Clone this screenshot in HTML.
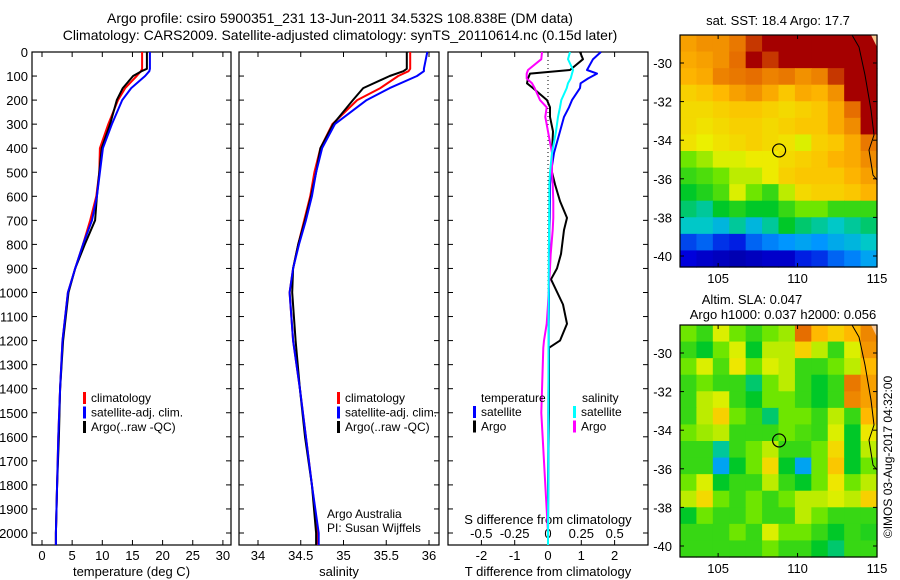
<!DOCTYPE html>
<html><head><meta charset="utf-8">
<style>
html,body{margin:0;padding:0;background:#fff;}
svg{display:block;font-family:"Liberation Sans",Arial,sans-serif;}
text{font-size:13px;fill:#000;}
</style></head>
<body>
<svg id="chart" width="900" height="580" viewBox="0 0 900 580" xmlns="http://www.w3.org/2000/svg">
<text x="340" y="23" text-anchor="middle" style="font-size:14px">Argo profile: csiro 5900351_231 13-Jun-2011 34.532S 108.838E (DM data)</text>
<text x="340" y="40" text-anchor="middle" style="font-size:14px">Climatology: CARS2009. Satellite-adjusted climatology: synTS_20110614.nc (0.15d later)</text>
<g id="g"></g>
</svg>
<script>
// ---------- data ----------
const depthT = [0,70,80,100,150,200,300,400,500,600,700,800,900,1000,1200,1400,1600,1800,2000,2050];
const tempArgo = [17.4,17.4,16.5,15.1,13.4,12.4,11.3,9.9,9.5,9.1,8.8,7.1,5.5,4.4,3.5,3.0,2.8,2.5,2.3,2.3];
const tempClim = [16.6,16.6,16.4,15.7,13.8,12.6,11.0,9.6,9.5,9.0,8.0,6.8,5.5,4.3,3.4,3.0,2.7,2.5,2.3,2.3];
const tempSat  = [17.9,17.9,17.8,17.1,14.8,13.3,11.6,10.1,9.6,9.1,8.3,6.8,5.5,4.3,3.4,3.0,2.7,2.5,2.3,2.3];
const salArgo = [35.74,35.74,35.70,35.54,35.23,35.11,34.88,34.73,34.68,34.62,34.55,34.47,34.41,34.40,34.44,34.49,34.55,34.63,34.68,34.68];
const salClim = [35.78,35.78,35.76,35.64,35.43,35.16,34.87,34.73,34.66,34.61,34.54,34.47,34.41,34.37,34.41,34.49,34.56,34.63,34.70,34.70];
const salSat  = [35.98,35.94,35.94,35.86,35.54,35.27,34.90,34.75,34.68,34.63,34.56,34.48,34.41,34.37,34.41,34.49,34.56,34.63,34.71,34.71];
const depthD = [0,30,75,90,110,130,150,200,230,270,330,420,500,550,620,690,740,840,900,945,1050,1130,1200,1230,1500,1800,2000,2050];
const dTArgo = [0.96,1.05,0.66,-0.54,-0.60,-0.63,-0.45,-0.03,0.06,0.06,0.15,0.12,0.12,0.21,0.36,0.57,0.48,0.39,0.27,0.09,0.45,0.57,0.36,0.03,0.03,0.0,0.0,0.0];
const dTSat  = [1.59,1.35,1.17,1.47,1.20,0.98,0.96,0.72,0.63,0.48,0.36,0.18,0.09,0.06,0.06,0.05,0.04,0.04,0.03,0.03,0.03,0.02,0.02,0.02,0.01,0.01,0.0,0.0];
const dSSat  = [0.165,0.15,0.188,0.18,0.17,0.15,0.14,0.10,0.09,0.075,0.06,0.03,0.015,0.01,0.01,0.008,0.008,0.006,0.006,0.005,0.005,0.004,0.004,0.004,0.003,0.002,0.0,0.0];
const dSArgo = [-0.045,-0.05,-0.15,-0.16,-0.16,-0.12,-0.10,-0.06,-0.01,-0.02,0.0,0.03,0.03,0.035,0.04,0.04,0.035,0.02,0.015,0.01,0.0,-0.01,-0.03,-0.035,-0.05,-0.02,0.0,0.0];
const depthTicks = [0,100,200,300,400,500,600,700,800,900,1000,1100,1200,1300,1400,1500,1600,1700,1800,1900,2000];
const tempTicks = [0,5,10,15,20,25,30];
const salTicks = [34,34.5,35,35.5,36];
const salTickLabels = ["34","34.5","35","35.5","36"];
const tdTicks = [-2,-1,0,1,2];
const sdTicks = [-0.5,-0.25,0,0.25,0.5];
const sdTickLabels = ["-0.5","-0.25","0","0.25","0.5"];
const latTicks = [-30,-32,-34,-36,-38,-40];
const lonTicks = [105,110,115];
const sstGrid = [
[0.8,0.83,0.83,0.88,0.95,1,1,1,1,1,1,1],
[0.78,0.8,0.83,0.9,1,0.95,1,1,1,1,1,1],
[0.76,0.78,0.86,0.88,0.9,0.86,0.88,0.83,0.86,0.95,1,1],
[0.7,0.72,0.75,0.8,0.83,0.78,0.72,0.78,0.76,0.83,1,1],
[0.68,0.68,0.7,0.72,0.72,0.7,0.68,0.7,0.72,0.78,0.9,1],
[0.68,0.66,0.68,0.7,0.7,0.68,0.7,0.72,0.72,0.78,0.84,1],
[0.66,0.63,0.66,0.68,0.7,0.68,0.66,0.62,0.7,0.72,0.78,0.88],
[0.55,0.58,0.62,0.62,0.64,0.64,0.68,0.7,0.72,0.76,0.78,0.84],
[0.5,0.52,0.55,0.6,0.6,0.64,0.7,0.72,0.72,0.72,0.76,0.8],
[0.45,0.48,0.52,0.62,0.55,0.5,0.6,0.68,0.7,0.7,0.72,0.76],
[0.42,0.4,0.45,0.48,0.45,0.45,0.5,0.55,0.55,0.5,0.5,0.5],
[0.38,0.38,0.35,0.4,0.35,0.4,0.45,0.42,0.4,0.38,0.4,0.42],
[0.22,0.25,0.2,0.18,0.25,0.28,0.3,0.32,0.3,0.33,0.35,0.38],
[0.15,0.12,0.1,0.08,0.1,0.12,0.12,0.18,0.2,0.25,0.28,0.32]];
const slaGrid = [
[0.55,0.5,0.62,0.55,0.5,0.55,0.58,0.9,0.75,0.7,0.75,0.85],
[0.5,0.45,0.55,0.62,0.45,0.6,0.6,0.7,0.6,0.5,0.62,0.82],
[0.55,0.62,0.52,0.65,0.55,0.62,0.6,0.5,0.5,0.55,0.6,0.75],
[0.5,0.55,0.5,0.5,0.42,0.55,0.6,0.5,0.45,0.5,0.88,0.8],
[0.5,0.6,0.62,0.5,0.45,0.55,0.55,0.5,0.45,0.5,0.85,0.8],
[0.5,0.6,0.7,0.55,0.5,0.42,0.55,0.55,0.5,0.6,0.5,0.75],
[0.55,0.58,0.6,0.5,0.5,0.5,0.55,0.52,0.5,0.62,0.45,0.65],
[0.5,0.5,0.4,0.5,0.55,0.6,0.5,0.5,0.55,0.68,0.45,0.6],
[0.5,0.5,0.32,0.45,0.55,0.68,0.45,0.32,0.55,0.72,0.45,0.55],
[0.55,0.62,0.45,0.5,0.5,0.6,0.5,0.45,0.55,0.65,0.55,0.6],
[0.6,0.68,0.55,0.5,0.55,0.5,0.55,0.6,0.6,0.62,0.6,0.7],
[0.45,0.55,0.5,0.5,0.55,0.5,0.5,0.6,0.55,0.5,0.5,0.5],
[0.5,0.5,0.5,0.55,0.5,0.62,0.55,0.55,0.5,0.45,0.5,0.48],
[0.5,0.5,0.5,0.5,0.5,0.55,0.5,0.5,0.45,0.42,0.5,0.5]];
const argoLon = 108.838, argoLat = -34.532;

// ---------- helpers ----------
const NS="http://www.w3.org/2000/svg";
const G=document.getElementById('g');
function el(tag,attrs,parent){const e=document.createElementNS(NS,tag);for(const k in attrs)e.setAttribute(k,attrs[k]);(parent||G).appendChild(e);return e;}
function txt(s,x,y,anchor,parent,size){const t=el('text',{x:x,y:y,'text-anchor':anchor||'start'},parent);if(size)t.style.fontSize=size+'px';t.textContent=s;return t;}
const TOP=52,BOT=545;
const yD=d=>TOP+d*0.2405;
const xT=v=>42+v*6.03;
const xS=v=>258+(v-34)*85.5;
const xTD=v=>548+v*33.3;
const xSD=v=>548+v*133.3;

function panel(name,x0,x1,xs,ticks,labels,title){
  const g=el('g',{});
  
  
  el('rect',{x:x0,y:TOP,width:x1-x0,height:BOT-TOP,fill:'#fff',stroke:'#000','stroke-width':1.2},g);
  depthTicks.forEach(d=>{el('line',{x1:x0,x2:x0+5,y1:yD(d),y2:yD(d),stroke:'#000'},g);el('line',{x1:x1,x2:x1-5,y1:yD(d),y2:yD(d),stroke:'#000'},g);});
  if(ticks){ticks.forEach((v,i)=>{const x=xs(v);el('line',{x1:x,x2:x,y1:BOT,y2:BOT-5,stroke:'#000'},g);el('line',{x1:x,x2:x,y1:TOP,y2:TOP+5,stroke:'#000'},g);
    const t=txt(labels?labels[i]:String(v),x,560,'middle',g);});}
  if(title){const t=txt(title,(x0+x1)/2,576,'middle',g);}
  return g;
}
function line(g,xs,vals,deps,color,name,w){
  let p='';vals.forEach((v,i)=>{p+=(i?'L':'M')+xs(v).toFixed(1)+' '+yD(deps[i]).toFixed(1);});
  const e=el('path',{d:p,fill:'none',stroke:color,'stroke-width':w||2,'stroke-linejoin':'round'},g);
  
}
function legend(g,x,y,items){
  items.forEach((it,i)=>{
    const yy=y+i*14.5;
    const r=el('rect',{x:x,y:yy-10,width:3,height:12,fill:it[1]},g);
    
    const t=txt(it[0],x+8,yy,'start',g,12);
  });
}

// y labels
const yl=el('g',{});


depthTicks.forEach(d=>txt(String(d),28,yD(d)+5,'end',yl));

// Panel 1 temperature
const p1=panel('temperature-panel',32,231,xT,tempTicks,null,'temperature (deg C)');
line(p1,xT,tempClim,depthT,'#f00','line-temp-climatology');
line(p1,xT,tempArgo,depthT,'#000','line-temp-argo');
line(p1,xT,tempSat,depthT,'#00f','line-temp-satellite');
legend(p1,83,402,[['climatology','#f00'],['satellite-adj. clim.','#00f'],['Argo(..raw -QC)','#000']]);

// Panel 2 salinity
const p2=panel('salinity-panel',239,439,xS,salTicks,salTickLabels,'salinity');
line(p2,xS,salClim,depthT,'#f00','line-sal-climatology');
line(p2,xS,salArgo,depthT,'#000','line-sal-argo');
line(p2,xS,salSat,depthT,'#00f','line-sal-satellite');
legend(p2,337,402,[['climatology','#f00'],['satellite-adj. clim.','#00f'],['Argo(..raw -QC)','#000']]);
const a1=txt('Argo Australia',327,518,'start',p2,12);
const a2=txt('PI: Susan Wijffels',327,532,'start',p2,12);

// Panel 3 differences
const p3=panel('difference-panel',448,648,xTD,tdTicks,null,'T difference from climatology');
sdTicks.forEach((v,i)=>{const t=txt(sdTickLabels[i],xSD(v),538,'middle',p3);});
const st=txt('S difference from climatology',548,524,'middle',p3);
const zl=el('line',{x1:548,x2:548,y1:TOP,y2:BOT,stroke:'#000','stroke-dasharray':'1,3'},p3);

line(p3,xTD,dTArgo,depthD,'#000','line-tdiff-argo');
line(p3,xTD,dTSat,depthD,'#00f','line-tdiff-satellite');
line(p3,xSD,dSArgo,depthD,'#f0f','line-sdiff-argo');
line(p3,xSD,dSSat,depthD,'#0ff','line-sdiff-satellite');
const lt=txt('temperature',481,402,'start',p3,12);
const ls=txt('salinity',582,402,'start',p3,12);
legend(p3,473,416,[['satellite','#00f'],['Argo','#000']]);
legend(p3,573,416,[['satellite','#0ff'],['Argo','#f0f']]);

// ---------- maps ----------
const stops=[[0,[0,0,130]],[0.15,[0,0,220]],[0.3,[0,150,255]],[0.38,[0,200,200]],[0.45,[0,200,40]],[0.55,[110,230,0]],[0.63,[235,240,0]],[0.75,[255,185,0]],[0.9,[230,110,0]],[1,[165,0,0]]];
function cmap(v){v=Math.max(0,Math.min(1,v));for(let i=1;i<stops.length;i++){if(v<=stops[i][0]){const a=stops[i-1],b=stops[i],t=(v-a[0])/(b[0]-a[0]);const c=a[1].map((q,k)=>Math.round(q+(b[1][k]-q)*t));return 'rgb('+c.join(',')+')';}}return 'rgb(165,0,0)';}
function map(name,top,grid,titles,titleY){
  const L=680,R=877,B=top+232;
  const lonMin=102.6,lonMax=115,latMax=-28.55,latMin=-40.57;
  const xL=lon=>L+(lon-lonMin)/(lonMax-lonMin)*(R-L);
  const yL=lat=>top+(latMax-lat)/(latMax-latMin)*(B-top);
  const g=el('g',{});
  
  
  const rows=grid.length,cols=grid[0].length;
  const cw=(R-L)/cols,ch=(B-top)/rows;
  grid.forEach((row,r)=>row.forEach((v,c)=>{
    const cell=el('rect',{x:(L+c*cw).toFixed(2),y:(top+r*ch).toFixed(2),width:(cw+0.6).toFixed(2),height:(ch+0.6).toFixed(2),fill:cmap(v)},g);
    
    
  }));
  el('path',{d:`M${R-6} ${top} L${R} ${top} L${R} ${top+12} Z`,fill:'#f9c890'},g);
  const coast=el('path',{d:`M${R-25} ${top} L${R-18} ${top+12} L${R-12} ${top+40} L${R-6} ${top+75} L${R-3} ${top+100} L${R-8} ${top+115} L${R-4} ${top+140} L${R} ${top+145}`,fill:'none',stroke:'#000','stroke-width':1},g);
  
  el('rect',{x:L,y:top,width:R-L,height:B-top,fill:'none',stroke:'#000','stroke-width':1.2},g);
  latTicks.forEach(v=>{const y=yL(v);el('line',{x1:L,x2:L+4,y1:y,y2:y,stroke:'#000'},g);el('line',{x1:R,x2:R-4,y1:y,y2:y,stroke:'#000'},g);
    const t=txt(String(v),672,y+5,'end',g);});
  lonTicks.forEach(v=>{const x=xL(v);el('line',{x1:x,x2:x,y1:B,y2:B-4,stroke:'#000'},g);el('line',{x1:x,x2:x,y1:top,y2:top+4,stroke:'#000'},g);
    const t=txt(String(v),x,B+16,'middle',g);});
  titles.forEach((s,i)=>{const t=txt(s,titleY[i][0],titleY[i][1],'middle',g,13);});
  const m=el('circle',{cx:xL(argoLon),cy:yL(argoLat),r:6.5,fill:'none',stroke:'#000','stroke-width':1.2},g);
  
}
map('sst-map',35,sstGrid,['sat. SST: 18.4 Argo: 17.7'],[[778,25]]);
map('sla-map',325,slaGrid,['Altim. SLA: 0.047','Argo h1000: 0.037 h2000: 0.056'],[[752,304],[783,319]]);
const cr=txt('©IMOS 03-Aug-2017 04:32:00',0,0,'middle',G,12);
cr.setAttribute('transform','translate(892,457) rotate(-90)');


</script>
</body></html>
